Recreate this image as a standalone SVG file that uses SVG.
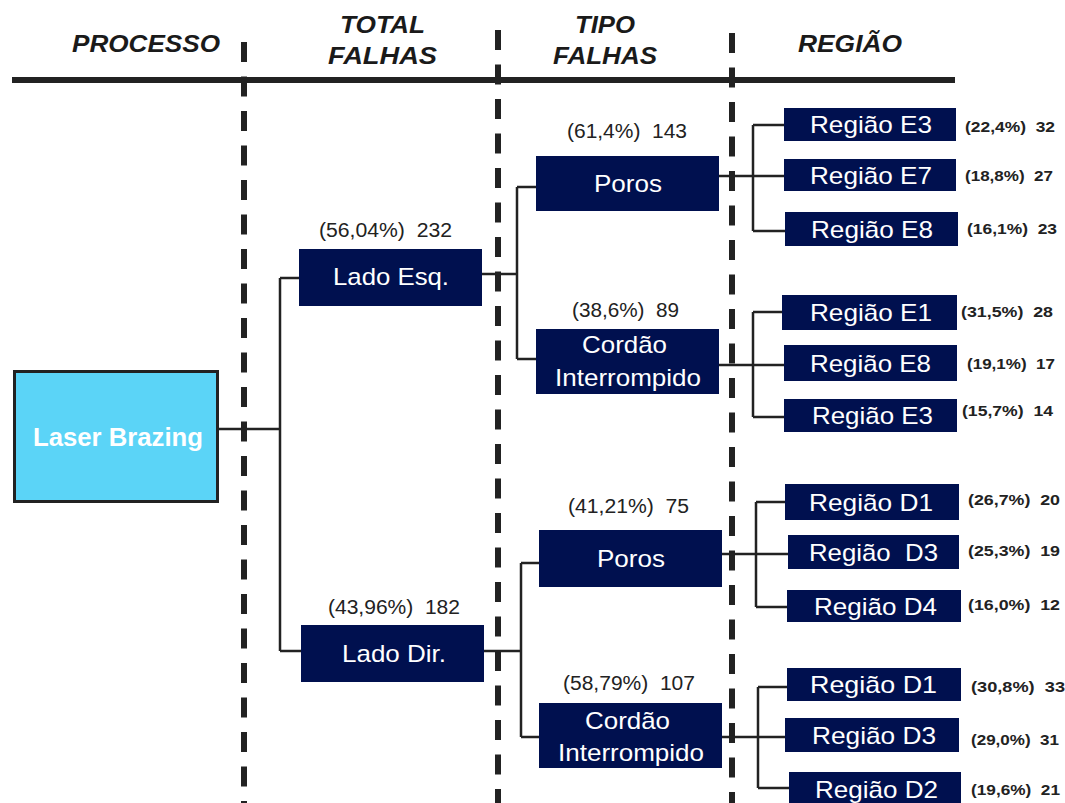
<svg xmlns="http://www.w3.org/2000/svg" width="1065" height="803" viewBox="0 0 1065 803">
<style>
.hdr{font-family:"Liberation Sans",Arial,sans-serif;font-weight:bold;font-style:italic;font-size:23px;fill:#1a1a1a}
.box{fill:#00104F}
.bt{font-family:"Liberation Sans",Arial,sans-serif;font-size:24px;fill:#fff;white-space:pre}
.lbl{font-family:"Liberation Sans",Arial,sans-serif;font-size:20px;fill:#222;white-space:pre}
.rl{font-family:"Liberation Sans",Arial,sans-serif;font-size:15px;font-weight:bold;fill:#222;white-space:pre}
.dash{stroke:#222;stroke-width:6;stroke-dasharray:20 14.5;fill:none}
.con{stroke:#222;stroke-width:2.5;fill:none}
</style>
<rect width="1065" height="803" fill="#fff"/>
<g id="header">
<line x1="12" y1="80" x2="955" y2="80" stroke="#222" stroke-width="6"/>
<text class="hdr" x="72" y="52" textLength="148" lengthAdjust="spacingAndGlyphs">PROCESSO</text>
<text class="hdr" x="340" y="33" textLength="85" lengthAdjust="spacingAndGlyphs">TOTAL</text>
<text class="hdr" x="328" y="64" textLength="109" lengthAdjust="spacingAndGlyphs">FALHAS</text>
<text class="hdr" x="575" y="33" textLength="60" lengthAdjust="spacingAndGlyphs">TIPO</text>
<text class="hdr" x="553" y="64" textLength="104" lengthAdjust="spacingAndGlyphs">FALHAS</text>
<text class="hdr" x="798" y="52" textLength="104" lengthAdjust="spacingAndGlyphs">REGIÃO</text>
</g>
<g id="dividers">
<line class="dash" x1="244" y1="42" x2="244" y2="803"/>
<line class="dash" x1="498" y1="30" x2="498" y2="803"/>
<line class="dash" x1="732" y1="33" x2="732" y2="803"/>
</g>
<g id="connectors">
<path class="con" d="M218 429 H280 M280 278 V651 M280 278 H300 M280 651 H301"/>
<path class="con" d="M482 274 H517 M517 187 V359 M517 187 H536 M517 359 H536"/>
<path class="con" d="M484 651 H521 M521 563 V737 M521 563 H539 M521 737 H539"/>
<path class="con" d="M719 176 H784 M753 125 V231 M753 125 H784 M753 231 H785"/>
<path class="con" d="M719 365 H784 M753 312 V417 M753 312 H782 M753 417 H784"/>
<path class="con" d="M722 554 H788 M756 502 V607 M756 502 H785 M756 607 H787"/>
<path class="con" d="M722 737 H785 M758 687 V788 M758 687 H787 M758 788 H789"/>
</g>
<g id="laser">
<rect x="14.5" y="371.5" width="203" height="130" fill="#5BD4F7" stroke="#222" stroke-width="3"/>
<text class="bt" x="33" y="446" textLength="170" lengthAdjust="spacingAndGlyphs" style="font-weight:bold;font-size:26px">Laser Brazing</text>
</g>
<g id="lado-esq">
<text class="lbl" x="319" y="237" textLength="133" lengthAdjust="spacingAndGlyphs">(56,04%)  232</text>
<rect class="box" x="299" y="249" width="183" height="57"/>
<text class="bt" x="333" y="285" textLength="116" lengthAdjust="spacingAndGlyphs">Lado Esq.</text>
</g>
<g id="lado-dir">
<text class="lbl" x="328" y="614" textLength="132" lengthAdjust="spacingAndGlyphs">(43,96%)  182</text>
<rect class="box" x="301" y="625" width="183" height="57"/>
<text class="bt" x="342" y="662" textLength="104" lengthAdjust="spacingAndGlyphs">Lado Dir.</text>
</g>
<g id="poros-e">
<text class="lbl" x="567" y="138" textLength="120" lengthAdjust="spacingAndGlyphs">(61,4%)  143</text>
<rect class="box" x="536" y="156" width="183" height="55"/>
<text class="bt" x="594" y="192" textLength="68" lengthAdjust="spacingAndGlyphs">Poros</text>
</g>
<g id="cordao-e">
<text class="lbl" x="572" y="317" textLength="107" lengthAdjust="spacingAndGlyphs">(38,6%)  89</text>
<rect class="box" x="536" y="329" width="183" height="65"/>
<text class="bt" x="582" y="353" textLength="85" lengthAdjust="spacingAndGlyphs">Cordão</text>
<text class="bt" x="555" y="386" textLength="146" lengthAdjust="spacingAndGlyphs">Interrompido</text>
</g>
<g id="poros-d">
<text class="lbl" x="568" y="513" textLength="121" lengthAdjust="spacingAndGlyphs">(41,21%)  75</text>
<rect class="box" x="539" y="530" width="183" height="57"/>
<text class="bt" x="597" y="567" textLength="68" lengthAdjust="spacingAndGlyphs">Poros</text>
</g>
<g id="cordao-d">
<text class="lbl" x="563" y="690" textLength="132" lengthAdjust="spacingAndGlyphs">(58,79%)  107</text>
<rect class="box" x="539" y="703" width="183" height="65"/>
<text class="bt" x="585" y="729" textLength="85" lengthAdjust="spacingAndGlyphs">Cordão</text>
<text class="bt" x="558" y="761" textLength="146" lengthAdjust="spacingAndGlyphs">Interrompido</text>
</g>
<g id="reg-e3a">
<rect class="box" x="784" y="108" width="172" height="33"/>
<text class="bt" x="810" y="133" textLength="122" lengthAdjust="spacingAndGlyphs">Região E3</text>
<text class="rl" x="965" y="132" textLength="90" lengthAdjust="spacingAndGlyphs">(22,4%)  32</text>
</g>
<g id="reg-e7">
<rect class="box" x="784" y="159" width="172" height="32"/>
<text class="bt" x="810" y="184" textLength="122" lengthAdjust="spacingAndGlyphs">Região E7</text>
<text class="rl" x="965" y="181" textLength="88" lengthAdjust="spacingAndGlyphs">(18,8%)  27</text>
</g>
<g id="reg-e8a">
<rect class="box" x="785" y="212" width="173" height="34"/>
<text class="bt" x="811" y="238" textLength="122" lengthAdjust="spacingAndGlyphs">Região E8</text>
<text class="rl" x="967" y="234" textLength="90" lengthAdjust="spacingAndGlyphs">(16,1%)  23</text>
</g>
<g id="reg-e1">
<rect class="box" x="782" y="295" width="175" height="35"/>
<text class="bt" x="810" y="321" textLength="122" lengthAdjust="spacingAndGlyphs">Região E1</text>
<text class="rl" x="961" y="317" textLength="92" lengthAdjust="spacingAndGlyphs">(31,5%)  28</text>
</g>
<g id="reg-e8b">
<rect class="box" x="784" y="345" width="173" height="36"/>
<text class="bt" x="810" y="372" textLength="121" lengthAdjust="spacingAndGlyphs">Região E8</text>
<text class="rl" x="967" y="369" textLength="88" lengthAdjust="spacingAndGlyphs">(19,1%)  17</text>
</g>
<g id="reg-e3b">
<rect class="box" x="784" y="399" width="173" height="33"/>
<text class="bt" x="812" y="424" textLength="121" lengthAdjust="spacingAndGlyphs">Região E3</text>
<text class="rl" x="962" y="416" textLength="91" lengthAdjust="spacingAndGlyphs">(15,7%)  14</text>
</g>
<g id="reg-d1a">
<rect class="box" x="785" y="484" width="174" height="36"/>
<text class="bt" x="809" y="511" textLength="124" lengthAdjust="spacingAndGlyphs">Região D1</text>
<text class="rl" x="968" y="505" textLength="92" lengthAdjust="spacingAndGlyphs">(26,7%)  20</text>
</g>
<g id="reg-d3a">
<rect class="box" x="788" y="535" width="171" height="34"/>
<text class="bt" x="809" y="561" textLength="129" lengthAdjust="spacingAndGlyphs">Região  D3</text>
<text class="rl" x="968" y="556" textLength="92" lengthAdjust="spacingAndGlyphs">(25,3%)  19</text>
</g>
<g id="reg-d4">
<rect class="box" x="787" y="590" width="174" height="32"/>
<text class="bt" x="814" y="615" textLength="123" lengthAdjust="spacingAndGlyphs">Região D4</text>
<text class="rl" x="968" y="610" textLength="92" lengthAdjust="spacingAndGlyphs">(16,0%)  12</text>
</g>
<g id="reg-d1b">
<rect class="box" x="787" y="668" width="174" height="33"/>
<text class="bt" x="810" y="693" textLength="127" lengthAdjust="spacingAndGlyphs">Região D1</text>
<text class="rl" x="971" y="692" textLength="94" lengthAdjust="spacingAndGlyphs">(30,8%)  33</text>
</g>
<g id="reg-d3b">
<rect class="box" x="785" y="718" width="174" height="34"/>
<text class="bt" x="812" y="744" textLength="124" lengthAdjust="spacingAndGlyphs">Região D3</text>
<text class="rl" x="971" y="745" textLength="88" lengthAdjust="spacingAndGlyphs">(29,0%)  31</text>
</g>
<g id="reg-d2">
<rect class="box" x="789" y="772" width="172" height="31"/>
<text class="bt" x="815" y="798" textLength="123" lengthAdjust="spacingAndGlyphs">Região D2</text>
<text class="rl" x="971" y="795" textLength="89" lengthAdjust="spacingAndGlyphs">(19,6%)  21</text>
</g>
</svg>
